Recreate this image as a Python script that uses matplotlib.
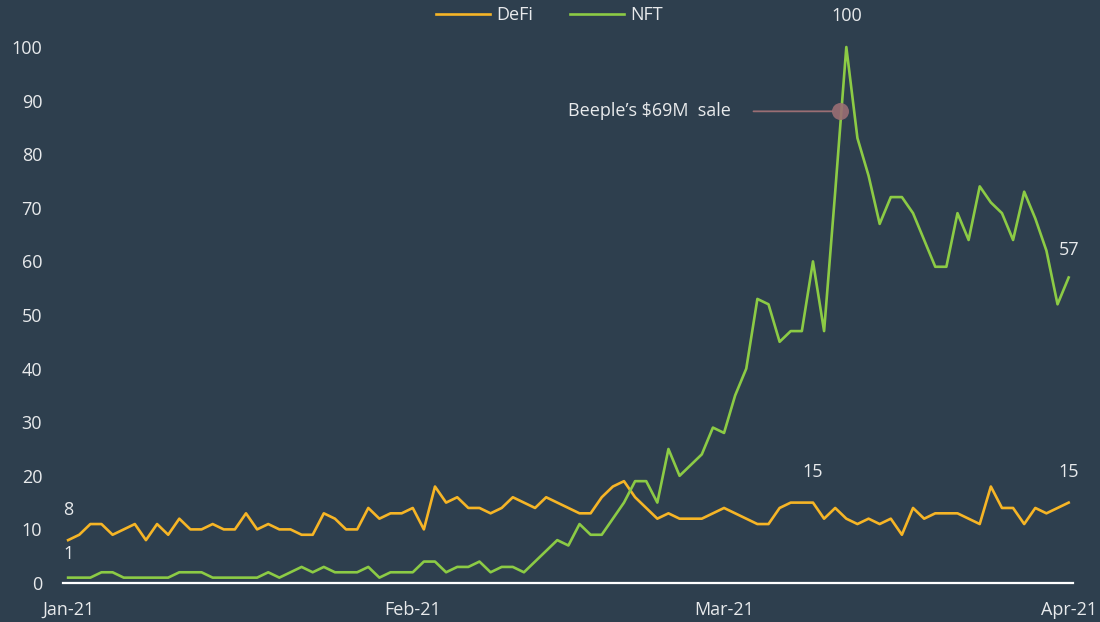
import datetime as dt

import matplotlib

matplotlib.use("Agg")
import matplotlib.pyplot as plt
import pandas as pd

# Daily search interest index, 1 Jan 2021 - 1 Apr 2021
start_date = "2021-01-01"
end_date = "2021-04-01"

defi = [
    8, 9, 11, 11, 9, 10, 11, 8, 11, 9,
    12, 10, 10, 11, 10, 10, 13, 10, 11, 10,
    10, 9, 9, 13, 12, 10, 10, 14, 12, 13,
    13, 14, 10, 18, 15, 16, 14, 14, 13, 14,
    16, 15, 14, 16, 15, 14, 13, 13, 16, 18,
    19, 16, 14, 12, 13, 12, 12, 12, 13, 14,
    13, 12, 11, 11, 14, 15, 15, 15, 12, 14,
    12, 11, 12, 11, 12, 9, 14, 12, 13, 13,
    13, 12, 11, 18, 14, 14, 11, 14, 13, 14, 15,
]
nft = [
    1, 1, 1, 2, 2, 1, 1, 1, 1, 1,
    2, 2, 2, 1, 1, 1, 1, 1, 2, 1,
    2, 3, 2, 3, 2, 2, 2, 3, 1, 2,
    2, 2, 4, 4, 2, 3, 3, 4, 2, 3,
    3, 2, 4, 6, 8, 7, 11, 9, 9, 12,
    15, 19, 19, 15, 25, 20, 22, 24, 29, 28,
    35, 40, 53, 52, 45, 47, 47, 60, 47, 73,
    100, 83, 76, 67, 72, 72, 69, 64, 59, 59,
    69, 64, 74, 71, 69, 64, 73, 68, 62, 52, 57,
]

# (series, day index, value, vertical offset in points)
point_labels = [
    ("defi", 0, 8, 22),
    ("nft", 0, 1, 17),
    ("defi", 67, 15, 22),
    ("defi", 90, 15, 22),
    ("nft", 70, 100, 22),
    ("nft", 90, 57, 20),
]

event_text = "Beeple\u2019s $69M  sale"
event_time = dt.datetime(2021, 3, 11, 9, 30)
event_value = 88

tick_dates = ["2021-01-01", "2021-02-01", "2021-03-01", "2021-04-01"]
tick_labels = ["Jan-21", "Feb-21", "Mar-21", "Apr-21"]
y_ticks = [0, 10, 20, 30, 40, 50, 60, 70, 80, 90, 100]

BG = "#2E3F4E"
TEXT = "#E8EAEC"
DEFI_COLOR = "#F6B526"
NFT_COLOR = "#8CCB45"
EVENT_COLOR = "#9A6E74"
FONT_SIZE = 13

plt.rcParams["font.family"] = ["Open Sans", "DejaVu Sans"]


def main() -> None:
    dates = pd.date_range(start_date, end_date, freq="D")
    series = {"defi": defi, "nft": nft}

    fig = plt.figure(figsize=(11, 6.22), dpi=100, facecolor=BG)
    ax = fig.add_axes([0.0573, 0.0627, 0.918, 0.9048])
    ax.set_facecolor(BG)

    ax.plot(dates, defi, color=DEFI_COLOR, linewidth=1.9, label="DeFi", zorder=3)
    ax.plot(dates, nft, color=NFT_COLOR, linewidth=1.9, label="NFT", zorder=3)

    for key, idx, value, offset in point_labels:
        ax.annotate(
            f"{value}",
            (dates[idx], series[key][idx]),
            xytext=(0, offset),
            textcoords="offset points",
            ha="center",
            va="center",
            fontsize=FONT_SIZE,
            color=TEXT,
            annotation_clip=False,
        )

    # event marker with a leader line out to the left
    ax.scatter([event_time], [event_value], s=150, color=EVENT_COLOR, alpha=0.9, zorder=4, linewidths=0)
    ax.annotate(
        event_text,
        (event_time, event_value),
        xytext=(-78, 0),
        textcoords="offset points",
        ha="right",
        va="center",
        fontsize=FONT_SIZE,
        color=TEXT,
        arrowprops=dict(arrowstyle="-", color=EVENT_COLOR, linewidth=1.3, shrinkA=14, shrinkB=5),
    )

    ax.set_ylim(0, 105)
    ax.set_xlim(dates[0] - pd.Timedelta(hours=11), dates[-1] + pd.Timedelta(hours=9))
    ax.set_yticks(y_ticks)
    ax.set_xticks(pd.to_datetime(tick_dates))
    ax.set_xticklabels(tick_labels)

    ax.tick_params(axis="both", length=0, labelsize=FONT_SIZE, colors=TEXT)
    ax.tick_params(axis="y", pad=15)
    ax.tick_params(axis="x", pad=13)
    for side in ("top", "right", "left"):
        ax.spines[side].set_visible(False)
    ax.spines["bottom"].set_color("white")
    ax.spines["bottom"].set_linewidth(1.6)

    leg = fig.legend(
        loc="center",
        bbox_to_anchor=(0.4995, 0.976),
        ncol=2,
        frameon=False,
        fontsize=FONT_SIZE,
        handlelength=3.0,
        handletextpad=0.35,
        columnspacing=2.0,
    )
    for text in leg.get_texts():
        text.set_color(TEXT)

    fig.savefig("out.png", dpi=100, facecolor=BG)
    plt.close(fig)


if __name__ == "__main__":
    main()
